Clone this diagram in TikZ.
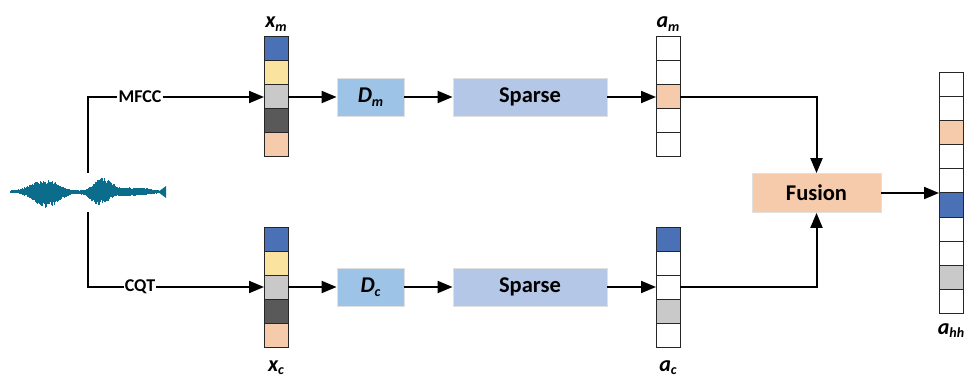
\documentclass[tikz,border=0pt]{standalone}
\usepackage{fontspec}
\setmainfont{Carlito}
\usetikzlibrary{arrows.meta}

\definecolor{cblue}{HTML}{4A71B5}
\definecolor{cyel}{HTML}{FAE39E}
\definecolor{clgray}{HTML}{C9C9C9}
\definecolor{cdgray}{HTML}{595959}
\definecolor{cpeach}{HTML}{F6CBAB}
\definecolor{dbox}{HTML}{9DC3E6}
\definecolor{sbox}{HTML}{B4C7E7}
\definecolor{wavec}{RGB}{12,108,140}

% variable name with bold italic subscript
\newcommand{\vname}[2]{{\bfseries\itshape #1\raisebox{-0.35ex}{\fontsize{14}{14}\selectfont #2}}}

\begin{document}
\begin{tikzpicture}[x=1pt,y=-1pt,
  cell/.style={draw=black!85, line width=1pt, minimum width=24pt, minimum height=24pt, inner sep=0pt, outer sep=0pt},
  block/.style={draw=black!12, line width=0.8pt, inner sep=0pt, font=\fontsize{22.5}{22.5}\selectfont\bfseries},
  varlab/.style={font=\fontsize{22}{22}\selectfont, inner sep=0pt, anchor=base},
  featlab/.style={fill=white, inner sep=1pt, font=\fontsize{18}{18}\selectfont\bfseries},
  link/.style={line width=2pt, black},
  arr/.style={link, -{Triangle[length=15pt,width=12pt]}},
  wave/.style={line width=1.3pt, draw=wavec}
]
\useasboundingbox (0,0) rectangle (975,377);

% audio waveform: random strands under a two-burst envelope
\pgfmathsetseed{7}
\draw[wavec, line width=2.4pt] (10,192) -- (166,192);
\foreach \x in {12,12.6,...,164} {
  \pgfmathsetmacro\eu{12*exp(-((\x-45)/19)^2)+13.5*exp(-((\x-103)/12)^2)+4*exp(-((\x-135)/20)^2)+1}
  \pgfmathsetmacro\ed{15*exp(-((\x-47)/17)^2)+12*exp(-((\x-99)/12)^2)+3.5*exp(-((\x-132)/20)^2)+1}
  \pgfmathsetmacro\u{\eu*(0.6+0.4*rnd)}
  \pgfmathsetmacro\d{\ed*(0.6+0.4*rnd)}
  \draw[wave] (\x,{192-\u}) -- (\x,{192+\d});
}
\fill[wavec] (158,192) -- (166,186) -- (166,198) -- cycle;

% feature vectors
\foreach \c [count=\i] in {cblue,cyel,clgray,cdgray,cpeach}
  \node[cell, fill=\c] (xm\i) at (276,{25+24*\i}) {};
\foreach \c [count=\i] in {cblue,cyel,clgray,cdgray,cpeach}
  \node[cell, fill=\c] (xc\i) at (276,{215+24*\i}) {};

% sparse codes
\foreach \c [count=\i] in {white,white,cpeach,white,white}
  \node[cell, fill=\c] (am\i) at (668,{25+24*\i}) {};
\foreach \c [count=\i] in {cblue,white,white,clgray,white}
  \node[cell, fill=\c] (ac\i) at (668,{215+24*\i}) {};

% fused code
\foreach \c [count=\i] in {white,white,cpeach,white,white,cblue,white,white,clgray,white}
  \node[cell, fill=\c] (ahh\i) at (951,{61+24*\i}) {};

% vector names
\node[varlab] (lxm) at (276,28) {\vname{x}{m}};
\node[varlab] (lxc) at (276,371) {\vname{x}{c}};
\node[varlab] (lam) at (668,28) {\vname{a}{m}};
\node[varlab] (lac) at (668,371) {\vname{a}{c}};
\node[varlab] (lahh) at (951,334) {\vname{a}{hh}};

% processing blocks
\node[block, fill=dbox, minimum width=67pt, minimum height=38pt] (dm) at (370.5,97) {\vname{D}{m}};
\node[block, fill=sbox, minimum width=154pt, minimum height=38pt] (spm) at (530,97) {Sparse};
\node[block, fill=dbox, minimum width=67pt, minimum height=38pt] (dc) at (370.5,287) {\vname{D}{c}};
\node[block, fill=sbox, minimum width=154pt, minimum height=38pt] (spc) at (530,287) {Sparse};
\node[block, fill=cpeach, minimum width=129pt, minimum height=39pt] (fus) at (816.5,193) {Fusion};

% feature extraction branches
\coordinate (wtop) at (88,173);
\coordinate (wbot) at (88,212);
\node[featlab] (mfcc) at (140,97) {MFCC};
\node[featlab] (cqt) at (140,287) {CQT};
\draw[link] (wtop) |- (mfcc.west);
\draw[link] (wbot) |- (cqt.west);
\draw[arr] (mfcc.east) -- (xm3.west);
\draw[arr] (cqt.east) -- (xc3.west);

% upper path
\draw[arr] (xm3.east) -- (dm.west);
\draw[arr] (dm.east) -- (spm.west);
\draw[arr] (spm.east) -- (am3.west);
% lower path
\draw[arr] (xc3.east) -- (dc.west);
\draw[arr] (dc.east) -- (spc.west);
\draw[arr] (spc.east) -- (ac3.west);

% fusion
\draw[arr] (am3.east) -| (fus.north);
\draw[arr] (ac3.east) -| (fus.south);
\draw[arr] (fus.east) -- (fus.east -| ahh6.west);
\end{tikzpicture}
\end{document}
